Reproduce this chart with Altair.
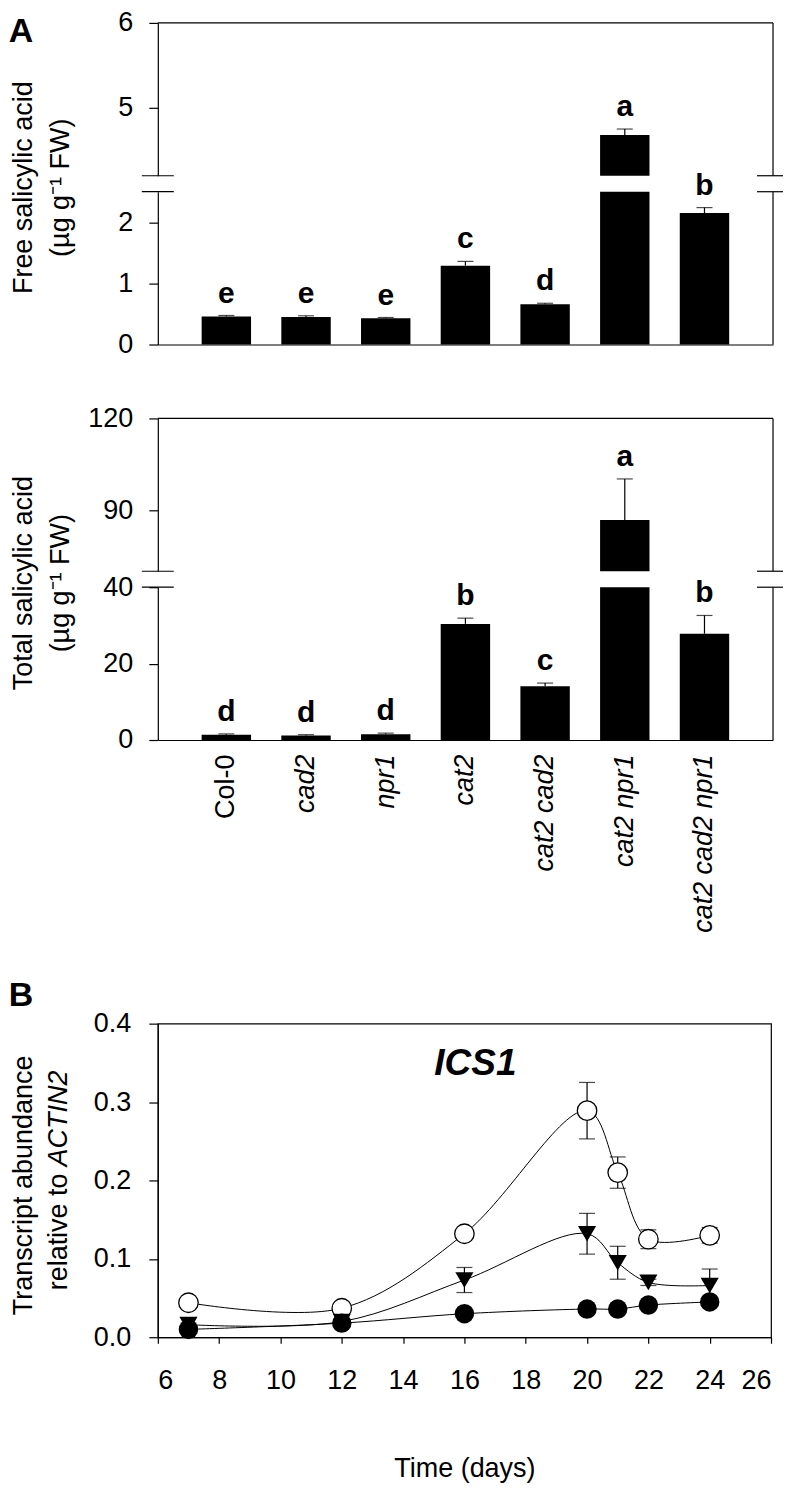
import altair as alt
import pandas as pd

# ---------------- data ----------------
genotypes = ["Col-0", "cad2", "npr1", "cat2", "cat2 cad2", "cat2 npr1", "cat2 cad2 npr1"]
free_sa = [0.46, 0.45, 0.43, 1.29, 0.66, 4.68, 2.15]
free_sa_err = [0.015, 0.02, 0.012, 0.07, 0.015, 0.07, 0.09]
free_letters = ["e", "e", "e", "c", "d", "a", "b"]
total_sa = [1.4, 1.2, 1.5, 30.4, 14.1, 86.8, 27.8]
total_sa_err = [0.2, 0.2, 0.3, 1.5, 0.8, 13.4, 4.8]
total_letters = ["d", "d", "d", "b", "c", "a", "b"]

days = [7, 12, 16, 20, 21, 22, 24]
open_vals = [0.044, 0.037, 0.132, 0.289, 0.210, 0.125, 0.130]
open_err = [0.003, 0.003, 0.004, 0.036, 0.020, 0.012, 0.010]
tri_vals = [0.016, 0.020, 0.073, 0.132, 0.095, 0.070, 0.066]
tri_err = [0.002, 0.002, 0.016, 0.026, 0.021, 0.004, 0.021]
fill_vals = [0.010, 0.018, 0.030, 0.036, 0.036, 0.041, 0.045]
fill_err = [0.001, 0.001, 0.002, 0.002, 0.002, 0.002, 0.002]

FONT = "Liberation Sans, Arial, Helvetica, sans-serif"
W = 616
H = 153
GAP = 16
LW = 1.2

one = pd.DataFrame({"d": [0]})


def rule(**enc):
    return alt.Chart(one).mark_rule(color="black", strokeWidth=LW).encode(**enc)


def segment(values, errs, letters, lo, hi, ticks, upper, show_labels=False, title=None):
    df = pd.DataFrame({"g": genotypes, "v": values, "e": errs, "L": letters})
    df["top"] = df["v"] + df["e"]
    base = alt.Chart(df)
    xscale = alt.Scale(domain=genotypes, paddingInner=0.38, paddingOuter=0.55)
    if upper:
        xaxis = None
    else:
        xaxis = alt.Axis(
            title=None, ticks=False, domainColor="black", domainWidth=LW,
            labels=show_labels, labelAngle=-90, labelAlign="right", labelBaseline="middle",
            labelPadding=14, labelFont=FONT, labelFontSize=27, labelColor="black",
            labelFontStyle={"condition": {"test": "datum.value == 'Col-0'", "value": "normal"},
                            "value": "italic"},
        )
    x = alt.X("g:N", sort=genotypes, scale=xscale, axis=xaxis)
    x2nd = alt.X("g:N", sort=genotypes)
    yscale = alt.Scale(domain=[lo, hi], nice=False, zero=False)
    yaxis = alt.Axis(
        values=ticks, format="d", title=None, grid=False, tickSize=9, tickColor="black",
        tickWidth=LW, domainColor="black", domainWidth=LW, labelPadding=16, labelFont=FONT,
        labelFontSize=27, labelColor="black",
    )
    if upper:
        bars = base.transform_filter(alt.datum.v > lo).mark_bar(color="black").encode(
            x=x, y=alt.Y("v:Q", scale=yscale, axis=yaxis), y2=alt.datum(lo))
        sel = base.transform_filter(alt.datum.v > lo)
    else:
        bars = base.transform_calculate(vc=f"min(datum.v, {hi})").mark_bar(color="black").encode(
            x=x, y=alt.Y("vc:Q", scale=yscale, axis=yaxis))
        sel = base.transform_filter(alt.datum.v < hi)
    stem = sel.mark_rule(color="black", strokeWidth=LW).encode(x=x2nd, y="v:Q", y2="top:Q")
    cap = sel.mark_tick(color="black", size=16, thickness=LW, orient="horizontal").encode(
        x=x2nd, y="top:Q")
    txt = sel.mark_text(font=FONT, fontSize=30, fontWeight="bold", color="black",
                        baseline="alphabetic", dy=-13).encode(x=x2nd, y="top:Q", text="L:N")
    layers = [bars, stem, cap, txt]
    # frame lines and axis break marks
    layers.append(rule(x=alt.value(W), y=alt.value(0), y2=alt.value(H)))
    yb = H if upper else 0
    if upper:
        layers.append(rule(x=alt.value(0), x2=alt.value(W), y=alt.value(0)))
    layers.append(rule(x=alt.value(-16), x2=alt.value(16), y=alt.value(yb)))
    layers.append(rule(x=alt.value(W - 16), x2=alt.value(W + 10), y=alt.value(yb)))
    if title is not None:
        for xpos, line in zip([-134, -97], title):
            layers.append(alt.Chart(one).mark_text(
                font=FONT, fontSize=27, angle=270, align="center", baseline="middle",
                color="black").encode(x=alt.value(xpos), y=alt.value(-GAP / 2 + 4),
                                      text=alt.value(line)))
    return layers


a1u = alt.layer(
    *segment(free_sa, free_sa_err, free_letters, 4.2, 6, [5, 6], True),
    alt.Chart(one).mark_text(font=FONT, fontSize=34, fontWeight="bold", color="black",
                             align="center", baseline="middle").encode(
        x=alt.value(-137), y=alt.value(9), text=alt.value("A")),
).properties(width=W, height=H)
a1l = alt.layer(*segment(free_sa, free_sa_err, free_letters, 0, 2.5, [0, 1, 2], False,
                         title=["Free salicylic acid", "(\u00b5g g\u207b\u00b9 FW)"])
                ).properties(width=W, height=H)
a2u = alt.layer(*segment(total_sa, total_sa_err, total_letters, 70, 120, [90, 120], True)
                ).properties(width=W, height=H)
a2l = alt.layer(*segment(total_sa, total_sa_err, total_letters, 0, 40, [0, 20, 40], False,
                         show_labels=True,
                         title=["Total salicylic acid", "(\u00b5g g\u207b\u00b9 FW)"])
                ).properties(width=W, height=H)

# ---------------- panel B ----------------
rows = []
for name, vals, errs in [("open", open_vals, open_err), ("tri", tri_vals, tri_err),
                         ("fill", fill_vals, fill_err)]:
    for d, v, e in zip(days, vals, errs):
        rows.append({"s": name, "day": d, "v": v, "lo": v - e, "hi": v + e})
dfB = pd.DataFrame(rows)
bB = alt.Chart(dfB)
xsB = alt.Scale(domain=[6, 26], nice=False)
ysB = alt.Scale(domain=[0, 0.4], nice=False)
xB = alt.X("day:Q", scale=xsB,
           axis=alt.Axis(values=list(range(6, 27, 2)), title="Time (days)", grid=False,
                         tickSize=6, tickColor="black", tickWidth=LW, domainColor="black",
                         domainWidth=LW, labelPadding=24, labelFont=FONT, labelFontSize=27,
                         labelColor="black", titleFont=FONT, titleFontSize=27,
                         titleFontWeight="normal", titleColor="black", titlePadding=62))
yB = alt.Y("v:Q", scale=ysB,
           axis=alt.Axis(values=[0, 0.1, 0.2, 0.3, 0.4], format=".1f", title=None, grid=False,
                         tickSize=9, tickColor="black", tickWidth=LW, domainColor="black",
                         domainWidth=LW, labelPadding=18, labelFont=FONT, labelFontSize=27,
                         labelColor="black"))
lines = bB.mark_line(interpolate="catmull-rom", color="black", strokeWidth=1).encode(
    x=xB, y=yB, detail="s:N")
estem = bB.mark_rule(color="black", strokeWidth=LW).encode(x="day:Q", y="lo:Q", y2="hi:Q")
ecap_hi = bB.mark_tick(color="black", size=16, thickness=LW, orient="horizontal").encode(
    x="day:Q", y="hi:Q")
ecap_lo = bB.mark_tick(color="black", size=16, thickness=LW, orient="horizontal").encode(
    x="day:Q", y="lo:Q")
p_open = bB.transform_filter(alt.datum.s == "open").mark_point(
    shape="circle", filled=True, fill="white", stroke="black", strokeWidth=1.3, size=380,
    opacity=1).encode(x="day:Q", y="v:Q")
p_tri = bB.transform_filter(alt.datum.s == "tri").mark_point(
    shape="triangle-down", filled=True, color="black", size=330, opacity=1).encode(
    x="day:Q", y="v:Q")
p_fill = bB.transform_filter(alt.datum.s == "fill").mark_point(
    shape="circle", filled=True, color="black", size=380, opacity=1).encode(
    x="day:Q", y="v:Q")
HB = 314
WB = 614
ics = alt.Chart(one).mark_text(font=FONT, fontSize=37, fontWeight="bold", fontStyle="italic",
                               color="black", align="center", baseline="middle").encode(
    x=alt.value(318), y=alt.value(40), text=alt.value("ICS1"))
t1 = alt.Chart(one).mark_text(font=FONT, fontSize=27, angle=270, align="center",
                              baseline="middle", color="black").encode(
    x=alt.value(-134), y=alt.value(HB / 2 + 5), text=alt.value("Transcript abundance"))
t2a = alt.Chart(one).mark_text(font=FONT, fontSize=27, angle=270, align="right",
                               baseline="middle", color="black").encode(
    x=alt.value(-99), y=alt.value(150), text=alt.value("relative to"))
t2b = alt.Chart(one).mark_text(font=FONT, fontSize=27, angle=270, align="left",
                               baseline="middle", color="black", fontStyle="italic",
                               dx=7).encode(
    x=alt.value(-99), y=alt.value(150), text=alt.value("ACTIN2"))
lblB = alt.Chart(one).mark_text(font=FONT, fontSize=34, fontWeight="bold", color="black",
                                align="center", baseline="middle").encode(
    x=alt.value(-137), y=alt.value(-28), text=alt.value("B"))
panelB = alt.layer(lines, estem, ecap_hi, ecap_lo, p_open, p_tri, p_fill, ics, t1, t2a, t2b,
                   lblB).properties(width=WB, height=HB,
                                    view=alt.ViewBackground(stroke="black", strokeWidth=LW))


def spacer(h):
    return alt.Chart(one).mark_point(opacity=0).encode(
        x=alt.value(0), y=alt.value(0)).properties(width=W, height=h)


chart = alt.vconcat(
    a1u, a1l, spacer(74 - 2 * GAP), a2u, a2l, spacer(284 - 2 * GAP), panelB,
    spacing=GAP, bounds="flush",
).properties(
    padding={"left": 0, "top": 0, "right": 0, "bottom": 0}, background="white"
).configure_view(stroke=None, strokeWidth=0)

chart.save("out.html", embed_options={"renderer": "svg", "actions": False})
